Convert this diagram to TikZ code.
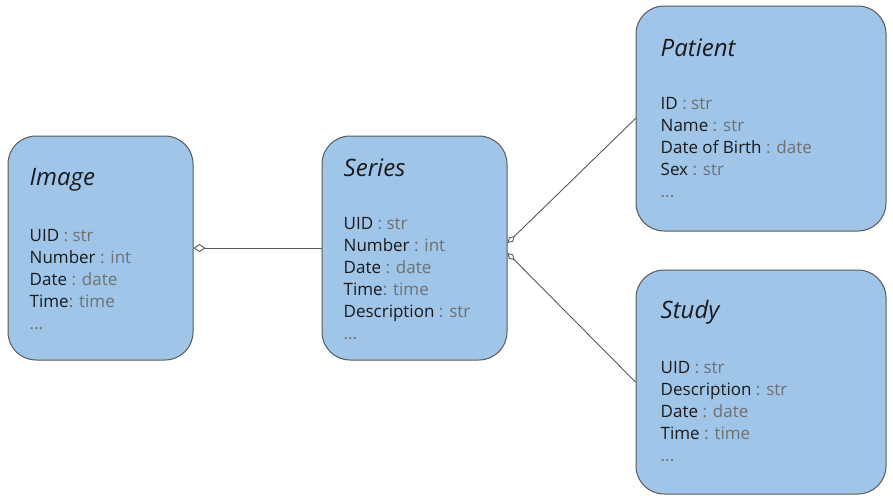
\documentclass[tikz,border=0pt]{standalone}
\usepackage{fontspec}
\setmainfont{Open Sans}
\usetikzlibrary{positioning,arrows.meta}
\definecolor{boxfill}{HTML}{9FC5E8}
\definecolor{boxline}{HTML}{5A5A5A}
\definecolor{namecol}{HTML}{1A1A1A}
\definecolor{typecol}{HTML}{707070}
\newcommand{\fld}[2]{{\color{namecol}#1}{\color{typecol}#2}}
\begin{document}
\begin{tikzpicture}[x=1pt, y=-1pt, line join=round, line cap=round,
	entity/.style={draw=boxline, fill=boxfill, line width=1pt, rounded corners=28pt, inner sep=0pt},
	etitle/.style={anchor=west, inner sep=0pt, text=namecol, font=\fontsize{24}{28}\selectfont\itshape},
	efields/.style={anchor=north west, inner sep=0pt, align=left, font=\fontsize{17}{22}\selectfont},
	link/.style={draw=boxline, line width=0.9pt}]
	\useasboundingbox (0,0) rectangle (893,501);
	% entities
	\node[entity, minimum width=185pt, minimum height=224pt] (image) at (100.5,248) {};
	\node[entity, minimum width=185pt, minimum height=224pt] (series) at (414.5,248) {};
	\node[entity, minimum width=250pt, minimum height=225pt] (patient) at (761,118.5) {};
	\node[entity, minimum width=250pt, minimum height=224pt] (study) at (761,382) {};
	% titles
	\node[etitle] (image-t) at ([shift={(22,44)}]image.north west) {Image};
	\node[etitle] (series-t) at ([shift={(22,32)}]series.north west) {Series};
	\node[etitle] (patient-t) at ([shift={(25,42)}]patient.north west) {Patient};
	\node[etitle] (study-t) at ([shift={(25,43)}]study.north west) {Study};
	% fields
	\node[efields] (image-f) at ([shift={(22,94)}]image.north west) {%
		\fld{UID}{\ : str}\\ \fld{Number}{\ : int}\\ \fld{Date}{\ : date}\\
		\fld{Time}{: time}\\ \fld{}{...}};
	\node[efields] (series-f) at ([shift={(22,82)}]series.north west) {%
		\fld{UID}{\ : str}\\ \fld{Number}{\ : int}\\ \fld{Date}{\ : date}\\
		\fld{Time}{: time}\\ \fld{Description}{\ : str}\\ \fld{}{...}};
	\node[efields] (patient-f) at ([shift={(25,92)}]patient.north west) {%
		\fld{ID}{\ : str}\\ \fld{Name}{\ : str}\\ \fld{Date of Birth}{\ : date}\\
		\fld{Sex}{\ : str}\\ \fld{}{...}};
	\node[efields] (study-f) at ([shift={(25,92)}]study.north west) {%
		\fld{UID}{\ : str}\\ \fld{Description}{\ : str}\\ \fld{Date}{\ : date}\\
		\fld{Time}{\ : time}\\ \fld{}{...}};
	% relations
	\draw[link, {Diamond[open, length=12pt, width=8pt]}-] (image) -- (series);
	\draw[link, {Diamond[open, length=10pt, width=6pt]}-] ([yshift=5pt]series.east) -- (patient.west);
	\draw[link, {Diamond[open, length=10pt, width=6pt]}-] ([yshift=-5pt]series.east) -- (study.west);
\end{tikzpicture}
\end{document}
